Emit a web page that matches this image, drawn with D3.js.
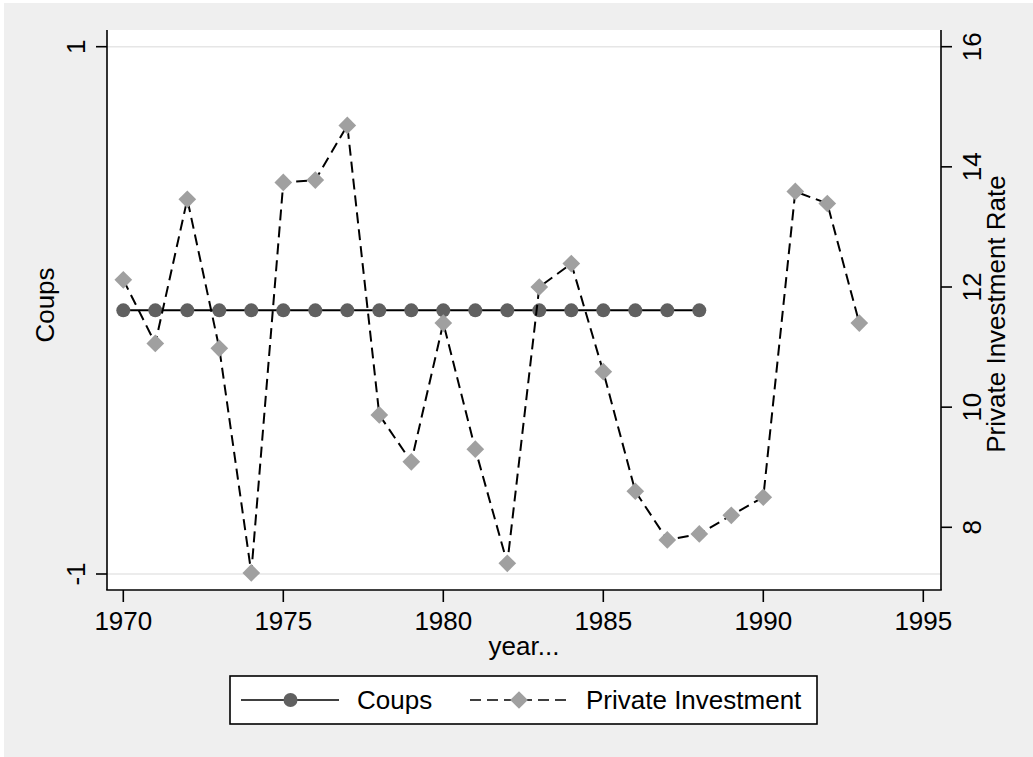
<!DOCTYPE html>
<html>
<head>
<meta charset="utf-8">
<script src="https://cdn.jsdelivr.net/npm/d3@7"></script>
<style>
  body { margin: 0; background: #fff; }
  svg text { font-family: "Liberation Sans", Arial, Helvetica, sans-serif; fill: #000; }
</style>
</head>
<body>
<div id="chart"></div>
<script>
// donnees
var years = [1970,1971,1972,1973,1974,1975,1976,1977,1978,1979,1980,1981,
             1982,1983,1984,1985,1986,1987,1988,1989,1990,1991,1992,1993]
var investment = [12.12,11.06,13.46,10.98,7.24,13.74,13.78,14.69,9.87,9.09,11.40,9.30,
                  7.40,12.00,12.39,10.59,8.60,7.79,7.89,8.20,8.50,13.59,13.39,11.40]
var coupYears = [1970,1971,1972,1973,1974,1975,1976,1977,1978,1979,
                 1980,1981,1982,1983,1984,1985,1986,1987,1988]
var coups = [0,0,0,0,0,0,0,0,0,0,0,0,0,0,0,0,0,0,0]
var xTicks = [1970,1975,1980,1985,1990,1995]
var leftTicks = [-1,1]
var rightTicks = [8,10,12,14,16]
var legendLabels = ["Coups","Private Investment"]

const width = 1033, height = 757
const plot = {left: 107, right: 941, top: 30, bottom: 590}

let x = d3.scaleLinear().domain([1970,1995]).range([123.3,923.3])
let yL = d3.scaleLinear().domain([-1,1]).range([574,46.7])
let yR = d3.scaleLinear().domain([8,16]).range([527.3,46.7])

let svg = d3.select("#chart").append("svg")
    .attr("width", width).attr("height", height)

// fond gris, petite marge blanche en haut et a gauche
svg.append("rect").attr("x",4).attr("y",3)
    .attr("width",width-4).attr("height",height-3).attr("fill","#efefef")
svg.append("rect").attr("x",plot.left).attr("y",plot.top)
    .attr("width",plot.right-plot.left).attr("height",plot.bottom-plot.top)
    .attr("fill","#fff")

// grille horizontale sur les ticks de gauche
svg.append("g").selectAll("line").data(leftTicks).enter().append("line")
    .attr("x1",plot.left).attr("x2",plot.right)
    .attr("y1",d=>yL(d)).attr("y2",d=>yL(d))
    .attr("stroke","#e6e6e6").attr("stroke-width",1.5)

// axes
let axes = svg.append("g").attr("stroke","#000").attr("stroke-width",1.6)
axes.append("line").attr("x1",plot.left).attr("x2",plot.left).attr("y1",plot.top).attr("y2",plot.bottom)
axes.append("line").attr("x1",plot.right).attr("x2",plot.right).attr("y1",plot.top).attr("y2",plot.bottom)
axes.append("line").attr("x1",plot.left-0.8).attr("x2",plot.right+0.8).attr("y1",plot.bottom).attr("y2",plot.bottom)

// axe x
let gx = svg.append("g")
gx.selectAll("line").data(xTicks).enter().append("line")
    .attr("x1",d=>x(d)).attr("x2",d=>x(d)).attr("y1",plot.bottom).attr("y2",plot.bottom+12)
    .attr("stroke","#000").attr("stroke-width",1.6)
gx.selectAll("text").data(xTicks).enter().append("text")
    .attr("x",d=>x(d)).attr("y",630).attr("text-anchor","middle")
    .attr("font-size",26).text(d=>d)
svg.append("text").attr("x",(plot.left+plot.right)/2).attr("y",655)
    .attr("text-anchor","middle").attr("font-size",26).text("year...")

// axe gauche
let gl = svg.append("g")
gl.selectAll("line").data(leftTicks).enter().append("line")
    .attr("x1",plot.left-11).attr("x2",plot.left).attr("y1",d=>yL(d)).attr("y2",d=>yL(d))
    .attr("stroke","#000").attr("stroke-width",1.6)
gl.selectAll("text").data(leftTicks).enter().append("text")
    .attr("transform",d=>"translate(85,"+yL(d)+") rotate(-90)")
    .attr("text-anchor","middle").attr("font-size",26).text(d=>d)
svg.append("text").attr("transform","translate(54,305) rotate(-90)")
    .attr("text-anchor","middle").attr("font-size",26).text("Coups")

// axe droit
let gr = svg.append("g")
gr.selectAll("line").data(rightTicks).enter().append("line")
    .attr("x1",plot.right).attr("x2",plot.right+11).attr("y1",d=>yR(d)).attr("y2",d=>yR(d))
    .attr("stroke","#000").attr("stroke-width",1.6)
gr.selectAll("text").data(rightTicks).enter().append("text")
    .attr("transform",d=>"translate(981,"+yR(d)+") rotate(-90)")
    .attr("text-anchor","middle").attr("font-size",26).text(d=>d)
svg.append("text").attr("transform","translate(1005,314) rotate(-90)")
    .attr("text-anchor","middle").attr("font-size",26).text("Private Investment Rate")

// serie coups
let coupData = coupYears.map((d,i)=>({x:d,y:coups[i]}))
svg.append("path").datum(coupData)
    .attr("d",d3.line().x(d=>x(d.x)).y(d=>yL(d.y)))
    .attr("fill","none").attr("stroke","#000").attr("stroke-width",2)
svg.append("g").selectAll("circle").data(coupData).enter().append("circle")
    .attr("cx",d=>x(d.x)).attr("cy",d=>yL(d.y)).attr("r",7).attr("fill","#606060")

// serie investissement
let invData = years.map((d,i)=>({x:d,y:investment[i]}))
let diamond = d3.symbol().type(d3.symbolDiamond2).size(200)
svg.append("path").datum(invData)
    .attr("d",d3.line().x(d=>x(d.x)).y(d=>yR(d.y)))
    .attr("fill","none").attr("stroke","#000").attr("stroke-width",2)
    .attr("stroke-dasharray","11,6")
svg.append("g").selectAll("path").data(invData).enter().append("path")
    .attr("d",diamond).attr("transform",d=>"translate("+x(d.x)+","+yR(d.y)+")")
    .attr("fill","#a0a0a0")

// legende
let leg = svg.append("g")
leg.append("rect").attr("x",230).attr("y",676).attr("width",587).attr("height",48)
    .attr("fill","#fff").attr("stroke","#000").attr("stroke-width",1.6)
leg.append("line").attr("x1",241).attr("x2",339).attr("y1",700).attr("y2",700)
    .attr("stroke","#000").attr("stroke-width",1.6)
leg.append("circle").attr("cx",290.5).attr("cy",700).attr("r",7).attr("fill","#606060")
leg.append("text").attr("x",357).attr("y",709).attr("font-size",26).text(legendLabels[0])
leg.append("line").attr("x1",470).attr("x2",568).attr("y1",700).attr("y2",700)
    .attr("stroke","#000").attr("stroke-width",1.6).attr("stroke-dasharray","11,6")
leg.append("path").attr("d",diamond).attr("transform","translate(519,700)").attr("fill","#a0a0a0")
leg.append("text").attr("x",586).attr("y",709).attr("font-size",26).text(legendLabels[1])
</script>
</body>
</html>
